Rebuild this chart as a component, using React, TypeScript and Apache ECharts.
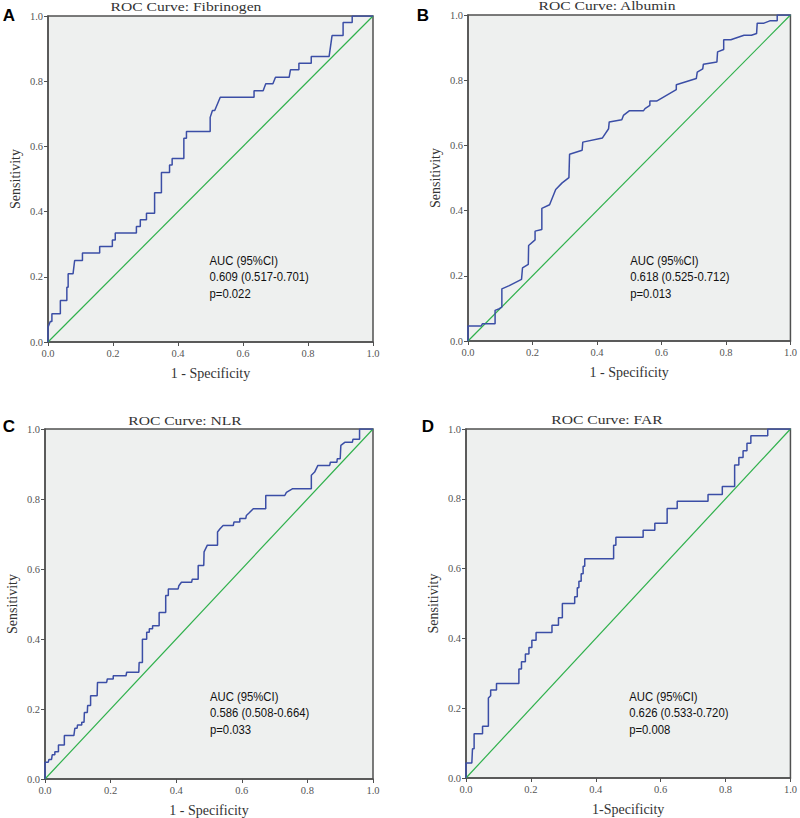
import React, { useEffect, useRef } from "react";
import * as echarts from "echarts";

// ---- Data ----
const tickValues = [0, 0.2, 0.4, 0.6, 0.8, 1.0];

const panelTitles = ["ROC Curve: Fibrinogen", "ROC Curve: Albumin", "ROC Curve: NLR", "ROC Curve: FAR"];
const panelLetters = ["A", "B", "C", "D"];
const xAxisNames = ["1 - Specificity", "1 - Specificity", "1 - Specificity", "1-Specificity"];
const yAxisName = "Sensitivity";

const aucTexts = [
  "AUC (95%CI)\n0.609 (0.517-0.701)\np=0.022",
  "AUC (95%CI)\n0.618 (0.525-0.712)\np=0.013",
  "AUC (95%CI)\n0.586 (0.508-0.664)\np=0.033",
  "AUC (95%CI)\n0.626 (0.533-0.720)\np=0.008",
];
const aucAnchorX = [0.497, 0.503, 0.503, 0.503];
const aucAnchorY = [0.2, 0.196, 0.188, 0.186];

const diagonalX = [0, 1];
const diagonalY = [0, 1];

const fibrinogenFpr = [0, 0, 0.007, 0.012, 0.012, 0.038, 0.038, 0.058, 0.058, 0.062, 0.062, 0.077, 0.082, 0.106, 0.106, 0.159, 0.159, 0.198, 0.198, 0.207, 0.207, 0.272, 0.272, 0.284, 0.284, 0.303, 0.303, 0.328, 0.328, 0.349, 0.349, 0.374, 0.374, 0.382, 0.382, 0.418, 0.418, 0.426, 0.426, 0.499, 0.499, 0.506, 0.513, 0.530, 0.634, 0.634, 0.662, 0.670, 0.692, 0.700, 0.742, 0.746, 0.772, 0.772, 0.810, 0.810, 0.865, 0.874, 0.908, 0.908, 0.936, 0.936, 1];
const fibrinogenTpr = [0, 0.045, 0.063, 0.063, 0.087, 0.087, 0.127, 0.127, 0.168, 0.168, 0.209, 0.209, 0.25, 0.25, 0.273, 0.273, 0.293, 0.293, 0.313, 0.313, 0.334, 0.334, 0.354, 0.354, 0.375, 0.375, 0.395, 0.395, 0.458, 0.458, 0.52, 0.52, 0.543, 0.543, 0.563, 0.563, 0.625, 0.625, 0.646, 0.646, 0.689, 0.71, 0.71, 0.751, 0.751, 0.771, 0.771, 0.792, 0.792, 0.812, 0.812, 0.835, 0.835, 0.855, 0.855, 0.876, 0.876, 0.94, 0.94, 0.98, 0.98, 1, 1];

const albuminFpr = [0, 0, 0.041, 0.045, 0.084, 0.084, 0.097, 0.105, 0.105, 0.128, 0.166, 0.169, 0.187, 0.188, 0.208, 0.208, 0.229, 0.229, 0.253, 0.272, 0.292, 0.313, 0.315, 0.354, 0.356, 0.417, 0.436, 0.438, 0.477, 0.482, 0.5, 0.544, 0.549, 0.564, 0.564, 0.585, 0.646, 0.646, 0.708, 0.711, 0.728, 0.730, 0.772, 0.774, 0.793, 0.793, 0.815, 0.856, 0.879, 0.895, 0.897, 0.918, 0.936, 0.959, 0.959, 1];
const albuminTpr = [0, 0.046, 0.046, 0.053, 0.053, 0.094, 0.099, 0.104, 0.16, 0.17, 0.189, 0.224, 0.235, 0.293, 0.31, 0.337, 0.342, 0.407, 0.418, 0.465, 0.485, 0.501, 0.573, 0.585, 0.61, 0.623, 0.651, 0.672, 0.679, 0.692, 0.706, 0.706, 0.713, 0.723, 0.736, 0.736, 0.771, 0.786, 0.805, 0.825, 0.835, 0.849, 0.856, 0.887, 0.894, 0.924, 0.924, 0.938, 0.938, 0.943, 0.975, 0.975, 0.982, 0.982, 1, 1];

const nlrFpr = [0, 0, 0.010, 0.012, 0.020, 0.022, 0.030, 0.030, 0.041, 0.041, 0.059, 0.059, 0.088, 0.091, 0.098, 0.099, 0.112, 0.112, 0.119, 0.120, 0.129, 0.130, 0.139, 0.139, 0.159, 0.160, 0.188, 0.190, 0.208, 0.208, 0.247, 0.249, 0.286, 0.287, 0.297, 0.297, 0.310, 0.310, 0.318, 0.318, 0.328, 0.328, 0.348, 0.348, 0.368, 0.368, 0.376, 0.376, 0.406, 0.408, 0.416, 0.447, 0.449, 0.467, 0.467, 0.484, 0.485, 0.495, 0.526, 0.526, 0.533, 0.543, 0.574, 0.576, 0.594, 0.594, 0.612, 0.614, 0.622, 0.635, 0.673, 0.673, 0.731, 0.736, 0.754, 0.812, 0.812, 0.822, 0.832, 0.868, 0.870, 0.890, 0.891, 0.900, 0.902, 0.914, 0.937, 0.939, 0.959, 0.959, 1];
const nlrTpr = [0, 0.048, 0.048, 0.056, 0.056, 0.069, 0.069, 0.078, 0.078, 0.097, 0.097, 0.124, 0.124, 0.145, 0.145, 0.154, 0.154, 0.162, 0.162, 0.19, 0.19, 0.21, 0.21, 0.238, 0.238, 0.276, 0.276, 0.286, 0.286, 0.295, 0.295, 0.305, 0.305, 0.333, 0.333, 0.399, 0.399, 0.419, 0.419, 0.429, 0.429, 0.438, 0.438, 0.476, 0.476, 0.524, 0.524, 0.543, 0.543, 0.552, 0.562, 0.562, 0.571, 0.571, 0.61, 0.61, 0.649, 0.668, 0.668, 0.706, 0.714, 0.724, 0.724, 0.734, 0.734, 0.744, 0.744, 0.753, 0.76, 0.772, 0.772, 0.81, 0.81, 0.819, 0.829, 0.829, 0.868, 0.877, 0.896, 0.896, 0.905, 0.905, 0.915, 0.915, 0.953, 0.962, 0.962, 0.971, 0.971, 1, 1];

const farFpr = [0, 0, 0.018, 0.020, 0.025, 0.025, 0.051, 0.051, 0.069, 0.069, 0.076, 0.076, 0.094, 0.094, 0.163, 0.163, 0.171, 0.171, 0.183, 0.183, 0.194, 0.194, 0.203, 0.203, 0.216, 0.216, 0.265, 0.265, 0.285, 0.285, 0.297, 0.297, 0.335, 0.335, 0.343, 0.343, 0.348, 0.348, 0.355, 0.355, 0.361, 0.361, 0.366, 0.366, 0.455, 0.455, 0.462, 0.462, 0.546, 0.546, 0.582, 0.582, 0.620, 0.620, 0.651, 0.651, 0.746, 0.746, 0.790, 0.790, 0.828, 0.828, 0.841, 0.841, 0.854, 0.854, 0.866, 0.866, 0.878, 0.878, 0.930, 0.930, 1];
const farTpr = [0, 0.043, 0.043, 0.084, 0.084, 0.127, 0.127, 0.148, 0.148, 0.229, 0.236, 0.252, 0.252, 0.271, 0.271, 0.312, 0.312, 0.333, 0.333, 0.355, 0.355, 0.374, 0.374, 0.395, 0.395, 0.417, 0.417, 0.438, 0.438, 0.459, 0.459, 0.5, 0.5, 0.519, 0.519, 0.545, 0.545, 0.564, 0.564, 0.585, 0.585, 0.607, 0.607, 0.628, 0.628, 0.667, 0.667, 0.69, 0.69, 0.71, 0.71, 0.73, 0.73, 0.772, 0.772, 0.793, 0.793, 0.812, 0.812, 0.835, 0.835, 0.897, 0.897, 0.918, 0.918, 0.938, 0.938, 0.959, 0.959, 0.981, 0.981, 1, 1];

const rocFpr = [fibrinogenFpr, albuminFpr, nlrFpr, farFpr];
const rocTpr = [fibrinogenTpr, albuminTpr, nlrTpr, farTpr];

// ---- Layout / style ----
const grids = [
  { left: 48, top: 16, width: 325, height: 326 },
  { left: 468, top: 15, width: 325, height: 326 },
  { left: 45, top: 429, width: 328, height: 350 },
  { left: 466, top: 429, width: 328, height: 349 },
];
const titlePos = [
  [186, 7],
  [607, 6],
  [185, 421],
  [607, 420],
];
const letterPos = [
  [9, 15],
  [423, 15],
  [9, 426],
  [428, 426],
];

const SERIF = "'Liberation Serif', 'DejaVu Serif', serif";
const SANS = "'Liberation Sans', Arial, sans-serif";
const AXIS_COLOR = "#505050";
const ROC_COLOR = "#3b4ea6";
const DIAG_COLOR = "#2eb04b";
const BG = "#eef0ef";

function zip(a: number[], b: number[]) {
  return a.map((v, i) => [v, b[i]]);
}

export default function App() {
  const ref = useRef<HTMLDivElement>(null);

  useEffect(() => {
    if (!ref.current) return;
    const chart = echarts.init(ref.current, undefined, { renderer: "svg" });

    const grid = grids.map((g) => ({
      ...g,
      show: true,
      backgroundColor: BG,
      borderColor: AXIS_COLOR,
      borderWidth: 1.5,
      containLabel: false,
    }));

    const xAxis = grids.map((_, i) => ({
      type: "value",
      gridIndex: i,
      min: 0,
      max: 1,
      interval: 0.2,
      name: xAxisNames[i],
      nameLocation: "middle",
      nameGap: 24,
      nameTextStyle: { fontFamily: SERIF, fontSize: 14, color: "#333" },
      axisLine: { show: true, lineStyle: { color: AXIS_COLOR, width: 1.5 } },
      axisTick: { show: true, length: 4, lineStyle: { color: AXIS_COLOR } },
      axisLabel: {
        fontFamily: SERIF,
        fontSize: 10.5,
        color: "#555",
        margin: 6,
        formatter: (v: number) => (tickValues.some((t) => Math.abs(t - v) < 1e-9) ? v.toFixed(1) : ""),
      },
      splitLine: { show: false },
    }));

    const yAxis = grids.map((_, i) => ({
      type: "value",
      gridIndex: i,
      min: 0,
      max: 1,
      interval: 0.2,
      name: yAxisName,
      nameLocation: "middle",
      nameGap: 26,
      nameTextStyle: { fontFamily: SERIF, fontSize: 14, color: "#333" },
      axisLine: { show: true, lineStyle: { color: AXIS_COLOR, width: 1.5 } },
      axisTick: { show: true, length: 4, lineStyle: { color: AXIS_COLOR } },
      axisLabel: {
        fontFamily: SERIF,
        fontSize: 10.5,
        color: "#555",
        margin: 5,
        formatter: (v: number) => v.toFixed(1),
      },
      splitLine: { show: false },
    }));

    const series: any[] = [];
    grids.forEach((_, i) => {
      series.push({
        type: "line",
        xAxisIndex: i,
        yAxisIndex: i,
        data: zip(diagonalX, diagonalY),
        showSymbol: false,
        lineStyle: { color: DIAG_COLOR, width: 1.2 },
        silent: true,
        z: 2,
      });
      series.push({
        type: "line",
        xAxisIndex: i,
        yAxisIndex: i,
        data: zip(rocFpr[i], rocTpr[i]),
        showSymbol: false,
        lineStyle: { color: ROC_COLOR, width: 1.5 },
        silent: true,
        z: 3,
      });
    });

    chart.setOption({
      animation: false,
      backgroundColor: "#ffffff",
      grid,
      xAxis,
      yAxis,
      series,
    });

    const graphic: any[] = [];
    panelTitles.forEach((t, i) => {
      graphic.push({
        type: "text",
        x: titlePos[i][0],
        y: titlePos[i][1],
        scaleX: 1.25,
        style: {
          text: t,
          font: `12.5px ${SERIF}`,
          fill: "#333",
          align: "center",
          verticalAlign: "middle",
        },
      });
    });
    panelLetters.forEach((t, i) => {
      graphic.push({
        type: "text",
        x: letterPos[i][0],
        y: letterPos[i][1],
        style: {
          text: t,
          font: `bold 17px ${SANS}`,
          fill: "#000",
          align: "center",
          verticalAlign: "middle",
        },
      });
    });
    aucTexts.forEach((t, i) => {
      const p = chart.convertToPixel({ gridIndex: i }, [aucAnchorX[i], aucAnchorY[i]]) as number[];
      graphic.push({
        type: "text",
        x: p[0],
        y: p[1],
        scaleX: 0.87,
        z: 10,
        style: {
          text: t,
          font: `13px ${SANS}`,
          lineHeight: 16.5,
          fill: "#111",
          align: "left",
          verticalAlign: "middle",
        },
      });
    });
    chart.setOption({ graphic });

    return () => chart.dispose();
  }, []);

  return (
    <div
      ref={ref}
      style={{ position: "absolute", left: 0, top: 0, width: 800, height: 818 }}
    />
  );
}
